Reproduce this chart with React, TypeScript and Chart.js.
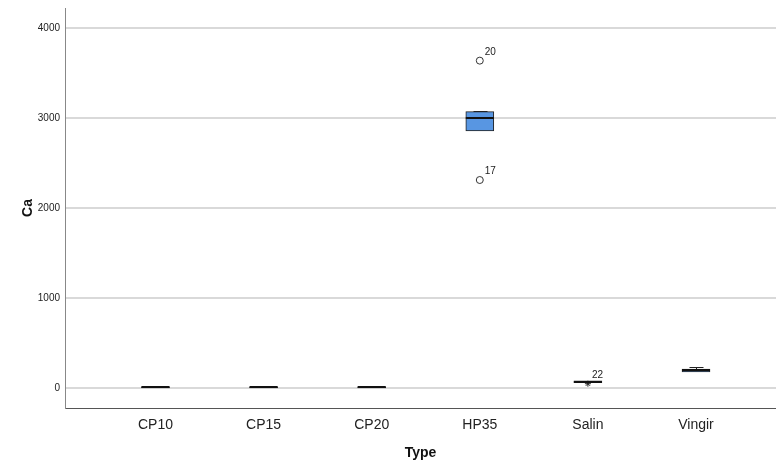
import React, { useEffect, useRef } from 'react';
import { Chart, registerables } from 'chart.js';

Chart.register(...registerables);

const categories = ['CP10', 'CP15', 'CP20', 'HP35', 'Salin', 'Vingir'];
const whiskerLow = [2, 2, 2, 2856, 60, 178];
const q1 = [2, 2, 2, 2856, 60, 178];
const median = [6, 6, 6, 3003, 70, 196];
const q3 = [12, 12, 12, 3070, 80, 211];
const whiskerHigh = [12, 12, 12, 3080, 80, 233];

const outlierCat = [3, 3];
const outlierValue = [3637, 2311];
const outlierLabel = ['20', '17'];

const extremeCat = [4];
const extremeValue = [48];
const extremeLabel = ['22'];

const yTicks = [0, 1000, 2000, 3000, 4000];

const FONT = "'Liberation Sans', Arial, sans-serif";

const boxPlugin = {
  id: 'boxExtras',
  beforeDatasetsDraw(chart: any) {
    const { ctx, scales } = chart;
    const x = scales.x;
    const y = scales.y;
    const meta = chart.getDatasetMeta(0);
    ctx.save();
    ctx.strokeStyle = '#222222';
    ctx.lineWidth = 1;
    categories.forEach((_, i) => {
      const bar = meta.data[i];
      if (!bar) return;
      const half = bar.width / 2;
      const cx = Math.round(x.getPixelForValue(i)) + 0.5;
      const cap = half / 2;
      if (whiskerHigh[i] > q3[i]) {
        const a = y.getPixelForValue(q3[i]);
        const b = Math.round(y.getPixelForValue(whiskerHigh[i])) + 0.5;
        ctx.beginPath();
        ctx.moveTo(cx, a);
        ctx.lineTo(cx, b);
        ctx.moveTo(cx - cap, b);
        ctx.lineTo(cx + cap, b);
        ctx.stroke();
      }
      if (whiskerLow[i] < q1[i]) {
        const a = y.getPixelForValue(q1[i]);
        const b = Math.round(y.getPixelForValue(whiskerLow[i])) + 0.5;
        ctx.beginPath();
        ctx.moveTo(cx, a);
        ctx.lineTo(cx, b);
        ctx.moveTo(cx - cap, b);
        ctx.lineTo(cx + cap, b);
        ctx.stroke();
      }
    });
    ctx.restore();
  },
  afterDatasetsDraw(chart: any) {
    const { ctx, scales } = chart;
    const x = scales.x;
    const y = scales.y;
    const meta = chart.getDatasetMeta(0);
    ctx.save();
    ctx.strokeStyle = '#111111';
    ctx.lineWidth = 2;
    categories.forEach((_, i) => {
      const bar = meta.data[i];
      if (!bar) return;
      const half = bar.width / 2;
      const cx = x.getPixelForValue(i);
      const my = Math.round(y.getPixelForValue(median[i]));
      ctx.beginPath();
      ctx.moveTo(cx - half, my);
      ctx.lineTo(cx + half, my);
      ctx.stroke();
    });
    ctx.fillStyle = '#222222';
    ctx.font = `10px ${FONT}`;
    ctx.textAlign = 'left';
    ctx.textBaseline = 'alphabetic';
    outlierCat.forEach((c, i) => {
      const px = x.getPixelForValue(c);
      const py = y.getPixelForValue(outlierValue[i]);
      ctx.fillText(outlierLabel[i], px + 5, py - 6);
    });
    extremeCat.forEach((c, i) => {
      const px = x.getPixelForValue(c);
      const py = y.getPixelForValue(extremeValue[i]);
      ctx.fillText(extremeLabel[i], px + 4, py - 6);
    });
    ctx.restore();
  },
};

export default function App() {
  const ref = useRef<HTMLCanvasElement | null>(null);

  useEffect(() => {
    if (!ref.current) return;
    const chart = new Chart(ref.current, {
      type: 'bar',
      data: {
        datasets: [
          {
            type: 'bar',
            data: categories.map((_, i) => ({ x: i, y: [q1[i], q3[i]] })) as any,
            backgroundColor: '#5896e2',
            borderColor: '#222222',
            borderWidth: 1,
            borderSkipped: false,
            barThickness: 28,
          } as any,
          {
            type: 'scatter',
            data: outlierCat.map((c, i) => ({ x: c, y: outlierValue[i] })),
            pointStyle: 'circle',
            pointRadius: 3.5,
            pointBackgroundColor: '#ffffff',
            pointBorderColor: '#333333',
            pointBorderWidth: 1,
          } as any,
          {
            type: 'scatter',
            data: extremeCat.map((c, i) => ({ x: c, y: extremeValue[i] })),
            pointStyle: 'star',
            pointRadius: 3,
            pointBorderColor: '#222222',
            pointBorderWidth: 1,
          } as any,
        ],
      },
      options: {
        responsive: false,
        animation: false,
        layout: { autoPadding: false, padding: { top: 8, left: 0, right: 0, bottom: 0 } },
        plugins: { legend: { display: false }, tooltip: { enabled: false } },
        scales: {
          x: {
            type: 'linear',
            min: -0.837,
            max: 5.74,
            offset: false,
            grid: { display: false, drawTicks: false },
            border: { display: true, color: '#555555', width: 1 },
            afterBuildTicks: (s: any) => {
              s.ticks = categories.map((_, i) => ({ value: i }));
            },
            afterFit: (s: any) => {
              s.height = 58;
              s.paddingLeft = 0;
              s.paddingRight = 0;
            },
            ticks: {
              padding: 9,
              color: '#222222',
              font: { family: FONT, size: 14 },
              maxRotation: 0,
              autoSkip: false,
              callback: (v: any) => categories[v as number] ?? '',
            },
            title: {
              display: true,
              text: 'Type',
              color: '#111111',
              font: { family: FONT, size: 14, weight: 'bold' },
              padding: { top: 0, bottom: 4 },
            },
          } as any,
          y: {
            type: 'linear',
            min: -222,
            max: 4222,
            grid: { color: '#d9d9d9', lineWidth: 2, drawTicks: false },
            border: { display: true, color: '#888888', width: 1 },
            afterBuildTicks: (s: any) => {
              s.ticks = yTicks.map((v) => ({ value: v }));
            },
            afterFit: (s: any) => {
              s.width = 65;
              s.paddingTop = 0;
              s.paddingBottom = 0;
            },
            ticks: {
              padding: 5,
              color: '#222222',
              font: { family: FONT, size: 10 },
              callback: (v: any) => String(v),
            },
            title: {
              display: true,
              text: 'Ca',
              color: '#111111',
              font: { family: FONT, size: 14, weight: 'bold' },
              padding: { top: 20, bottom: 0 },
            },
          } as any,
        },
      },
      plugins: [boxPlugin],
    });
    return () => chart.destroy();
  }, []);

  return (
    <div style={{ position: 'absolute', left: 0, top: 0, width: 776, height: 466, background: '#ffffff' }}>
      <canvas ref={ref} width={776} height={466} style={{ display: 'block' }} />
    </div>
  );
}
